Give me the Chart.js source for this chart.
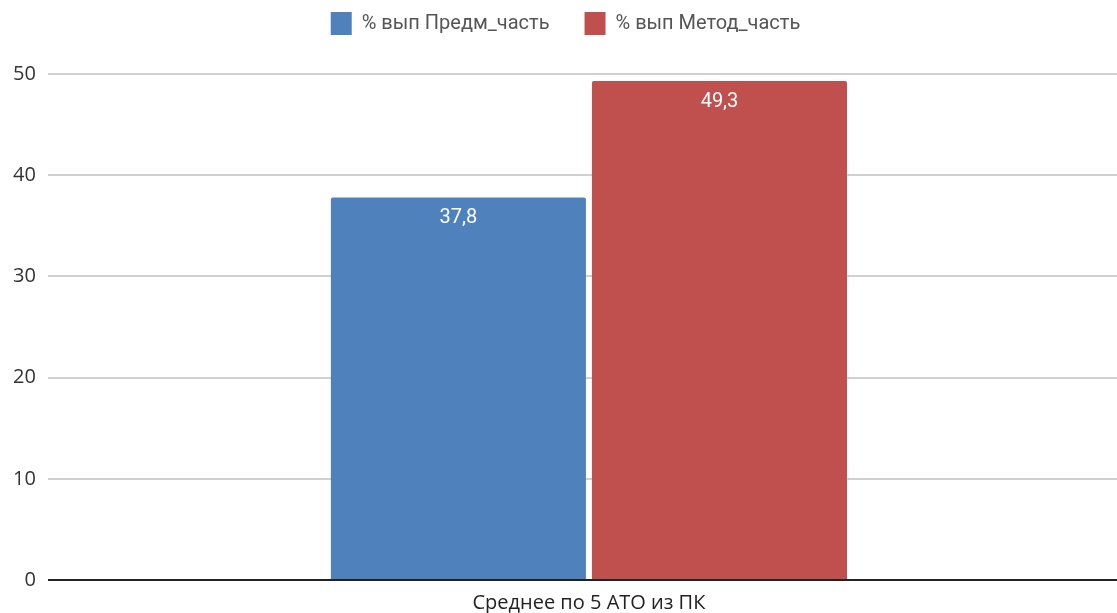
<!DOCTYPE html>
<html lang="ru">
<head>
<meta charset="UTF-8">
<title>Среднее по 5 АТО из ПК</title>
<script src="https://cdn.jsdelivr.net/npm/chart.js"></script>
<style>
  html, body { margin: 0; padding: 0; background: #fff; overflow: hidden; }
  #wrap { width: 1130px; height: 613px; }
</style>
</head>
<body>
<div id="wrap"><canvas id="myChart"></canvas></div>
<script>
// данные с картинки
const categories = ['Среднее по 5 АТО из ПК'];
const seriesNames = ['% вып Предм_часть', '% вып Метод_часть'];
const predmValues = [37.8];
const metodValues = [49.3];
const yTicks = [0, 10, 20, 30, 40, 50];

// подписи значений внутри столбцов (без плагина datalabels)
const valueLabels = {
  id: 'valueLabels',
  afterDatasetsDraw(chart) {
    const ctx = chart.ctx;
    ctx.save();
    ctx.fillStyle = '#ffffff';
    ctx.font = '20px Roboto, sans-serif';
    ctx.textAlign = 'center';
    ctx.textBaseline = 'middle';
    chart.data.datasets.forEach((ds, i) => {
      chart.getDatasetMeta(i).data.forEach((bar, j) => {
        const txt = String(ds.data[j]).replace('.', ',');
        ctx.fillText(txt, bar.x, bar.y + 21);
      });
    });
    ctx.restore();
  }
};

// место под легендой побольше
const legendGap = {
  id: 'legendGap',
  beforeInit(chart) {
    const origFit = chart.legend.fit;
    chart.legend.fit = function () {
      origFit.call(this);
      this.height += 29;
    };
  }
};

const ctx = document.getElementById('myChart').getContext('2d');
const myChart = new Chart(ctx, {
  type: 'bar',
  data: {
    labels: categories,
    datasets: [
      {
        label: seriesNames[0],
        data: predmValues,
        backgroundColor: '#4f81bd',
        borderRadius: { topLeft: 2, topRight: 2 },
        borderSkipped: 'bottom'
      },
      {
        label: seriesNames[1],
        data: metodValues,
        backgroundColor: '#c0504d',
        borderRadius: { topLeft: 2, topRight: 2 },
        borderSkipped: 'bottom'
      }
    ]
  },
  plugins: [valueLabels, legendGap],
  options: {
    responsive: true,
    maintainAspectRatio: false,
    animation: false,
    categoryPercentage: 0.4825,
    barPercentage: 0.977,
    layout: { padding: { top: -23, left: 1, right: 0, bottom: -5 } },
    plugins: {
      tooltip: { enabled: false },
      legend: {
        position: 'top',
        align: 'center',
        labels: {
          boxWidth: 21,
          boxHeight: 23,
          padding: 35,
          color: '#555',
          font: { family: 'Roboto, sans-serif', size: 20 }
        }
      }
    },
    scales: {
      x: {
        grid: { display: false },
        border: { display: false },
        ticks: {
          color: '#222',
          padding: 3,
          font: { family: '"Open Sans", sans-serif', size: 20 }
        }
      },
      y: {
        min: 0,
        max: 50,
        afterBuildTicks: (axis) => { axis.ticks = yTicks.map(v => ({ value: v })); },
        grid: {
          drawTicks: false,
          lineWidth: 2,
          color: (c) => (c.tick && c.tick.value === 0 ? '#222' : '#d0d0d0')
        },
        border: { display: false },
        ticks: {
          color: '#333',
          padding: 12,
          font: { family: '"Open Sans", sans-serif', size: 20 }
        }
      }
    }
  }
});
</script>
</body>
</html>
